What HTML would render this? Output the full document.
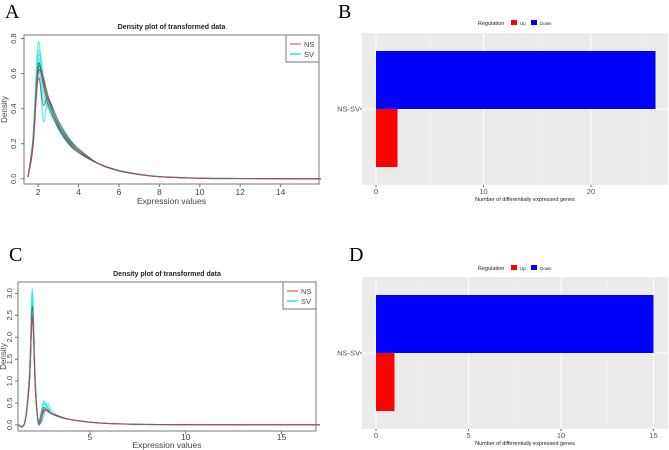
<!DOCTYPE html>
<html><head><meta charset="utf-8"><style>
body{margin:0;background:#fff;width:669px;height:450px;overflow:hidden}
svg{display:block}
text{font-family:"Liberation Sans",sans-serif}
</style></head><body>
<svg id="s" width="669" height="450">
<text x="5" y="18" font-size="20" style="font-family:'Liberation Serif',serif">A</text>
<text x="338" y="18" font-size="20" style="font-family:'Liberation Serif',serif">B</text>
<text x="9" y="261" font-size="20" style="font-family:'Liberation Serif',serif">C</text>
<text x="349" y="261" font-size="20" style="font-family:'Liberation Serif',serif">D</text>
<g id="pa"></g>
<g id="pc"></g>
<g id="pb"></g>
<g id="pd"></g>
</svg>
<script>
// Panel A data
const aX=[1.5,1.75,2,2.25,2.5,3,3.5,4,5,6,7,8,10,12,16];
const aNS=[
[0.01,0.2,0.6,0.56,0.45,0.31,0.22,0.16,0.085,0.047,0.025,0.012,0.003,0.001,0],
[0.01,0.22,0.65,0.54,0.42,0.29,0.21,0.15,0.085,0.046,0.025,0.012,0.003,0.001,0],
[0.01,0.18,0.57,0.42,0.46,0.33,0.23,0.17,0.085,0.045,0.024,0.012,0.003,0.001,0],
[0.01,0.2,0.62,0.58,0.47,0.3,0.2,0.15,0.085,0.047,0.025,0.012,0.003,0.001,0]];
const aSV=[
[0.01,0.25,0.78,0.52,0.4,0.29,0.21,0.16,0.085,0.045,0.025,0.012,0.003,0.001,0],
[0.01,0.22,0.7,0.56,0.43,0.3,0.22,0.16,0.085,0.046,0.025,0.012,0.003,0.001,0],
[0.01,0.2,0.66,0.33,0.44,0.33,0.24,0.17,0.085,0.044,0.024,0.012,0.003,0.001,0],
[0.01,0.24,0.72,0.6,0.44,0.28,0.2,0.15,0.085,0.047,0.026,0.012,0.003,0.001,0],
[0.01,0.21,0.68,0.46,0.42,0.32,0.23,0.17,0.085,0.045,0.025,0.012,0.003,0.001,0],
[0.01,0.23,0.64,0.57,0.46,0.29,0.2,0.15,0.085,0.045,0.025,0.012,0.003,0.001,0]];
const aXTicks=[2,4,6,8,10,12,14];
const aYTicks=[0,0.2,0.4,0.6,0.8];
// Panel C data
const cX=[1.25,1.6,1.85,2.0,2.15,2.3,2.45,2.6,2.8,3,3.5,4,5,6,8,10,17];
const cNS=[
[0,0.05,1.0,2.5,0.9,0.08,0.1,0.35,0.32,0.26,0.18,0.12,0.06,0.03,0.01,0.004,0],
[0,0.05,1.1,2.7,0.9,0.06,0.12,0.3,0.34,0.25,0.17,0.12,0.06,0.03,0.01,0.004,0],
[0,0.05,1.0,2.4,0.8,0.1,0.22,0.4,0.3,0.25,0.17,0.12,0.06,0.03,0.01,0.004,0]];
const cSV=[
[0,0.05,1.2,3.1,1.0,0.06,0.3,0.55,0.35,0.26,0.17,0.12,0.06,0.03,0.01,0.004,0],
[0,0.05,1.1,2.9,1.0,0.05,0.12,0.45,0.42,0.27,0.17,0.12,0.06,0.03,0.01,0.004,0],
[0,0.05,1.2,3.0,0.9,0.08,0.05,0.2,0.5,0.32,0.18,0.12,0.06,0.03,0.01,0.004,0],
[0,0.05,1.0,2.8,1.1,0.07,0.2,0.5,0.38,0.26,0.17,0.12,0.06,0.03,0.01,0.004,0]];
const cXTicks=[5,10,15];
const cYTicks=[0,0.5,1,1.5,2,2.5,3];
const cYLabels=["0.0","0.5","1.0","1.5","2.0","2.5","3.0"];
// Bar data
const barCats=["NS-SV"];
const bUp=[2], bDown=[26];
const bTicks=[0,10,20];
const dUp=[1], dDown=[15];
const dTicks=[0,5,10,15];

const NS='http://www.w3.org/2000/svg';
function el(p,t,a){const e=document.createElementNS(NS,t);for(const k in a)e.setAttribute(k,a[k]);p.appendChild(e);return e;}
function smooth(pts){let d='M'+pts[0][0]+','+pts[0][1];for(let i=0;i<pts.length-1;i++){const p0=pts[i-1]||pts[i],p1=pts[i],p2=pts[i+1],p3=pts[i+2]||p2;
d+=' C'+(p1[0]+(p2[0]-p0[0])/6)+','+(p1[1]+(p2[1]-p0[1])/6)+' '+(p2[0]-(p3[0]-p1[0])/6)+','+(p2[1]-(p3[1]-p1[1])/6)+' '+p2[0]+','+p2[1];}return d;}

function density(g,o){
  const sx=v=>o.x0+(v-o.xmin)/(o.xmax-o.xmin)*(o.x1-o.x0);
  const sy=v=>o.y1-(v-o.ymin)/(o.ymax-o.ymin)*(o.y1-o.y0);
  let t=el(g,'text',{x:(o.x0+o.x1)/2,y:o.y0-6,'text-anchor':'middle','font-size':7,'font-weight':'bold',fill:'#222'});t.textContent='Density plot of transformed data';
  
  
  const draw=(arr,col,w,op)=>arr.forEach(c=>{const p=el(g,'path',{d:smooth(o.xs.map((x,i)=>[sx(x),sy(c[i])])),fill:'none',stroke:col,'stroke-width':w,opacity:op});
    
    });
  draw(o.sv,'#2ee6e0',1.2,0.75);draw(o.ns,'#555',0.9,0.8);draw(o.ns.slice(0,1),'#d94040',0.9,0.9);
  const r=el(g,'rect',{x:o.x0,y:o.y0,width:o.x1-o.x0,height:o.y1-o.y0,fill:'none',stroke:'#777','stroke-width':1});
  
  
  o.xt.forEach(v=>{el(g,'line',{x1:sx(v),x2:sx(v),y1:o.y1,y2:o.y1+3,stroke:'#777'});const tt=el(g,'text',{x:sx(v),y:o.y1+o.tx,'text-anchor':'middle','font-size':8.5,fill:'#444'});tt.textContent=v;
    
    });
  o.yt.forEach((v,i)=>{el(g,'line',{x1:o.x0-3,x2:o.x0,y1:sy(v),y2:sy(v),stroke:'#777'});const tt=el(g,'text',{x:0,y:0,'text-anchor':'middle','font-size':7.5,fill:'#444',transform:`translate(${o.x0-o.ty},${sy(v)}) rotate(-90)`});tt.textContent=o.yl[i];
    
    });
  let xl=el(g,'text',{x:(o.x0+o.x1)/2,y:o.y1+o.tt,'text-anchor':'middle','font-size':8.5,fill:'#444'});xl.textContent='Expression values';
  
  
  let yl=el(g,'text',{x:0,y:0,'text-anchor':'middle','font-size':8,fill:'#444',transform:`translate(${o.yx},${(o.y0+o.y1)/2}) rotate(-90)`});yl.textContent='Density';
  
  
  const lg=el(g,'g',{});
  
  
  el(lg,'rect',{x:o.x1-33,y:o.y0,width:33,height:27,fill:'#fff',stroke:'#777'});
  el(lg,'line',{x1:o.x1-29,x2:o.x1-18,y1:o.y0+9,y2:o.y0+9,stroke:'#d94040'});
  el(lg,'line',{x1:o.x1-29,x2:o.x1-18,y1:o.y0+19,y2:o.y0+19,stroke:'#2ee6e0','stroke-width':1.5});
  let a=el(lg,'text',{x:o.x1-15,y:o.y0+12,'font-size':7.5,fill:'#444'});a.textContent='NS';
  let b=el(lg,'text',{x:o.x1-15,y:o.y0+22,'font-size':7.5,fill:'#444'});b.textContent='SV';
}
density(document.getElementById('pa'),{x0:24,x1:319,y0:35,y1:184,xmin:1.3,xmax:15.9,ymin:-0.03,ymax:0.82,xs:aX,ns:aNS,sv:aSV,xt:aXTicks,yt:aYTicks,yl:aYTicks.map(v=>v.toFixed(1)),tx:11,tt:20,ty:8,yx:7});
density(document.getElementById('pc'),{x0:18,x1:316,y0:282,y1:431,xmin:1.25,xmax:16.8,ymin:-0.14,ymax:3.26,xs:cX,ns:cNS,sv:cSV,xt:cXTicks,yt:cYTicks,yl:cYLabels,tx:9,tt:17,ty:6,yx:6});

function bars(g,o){
  const sx=v=>o.xz+v*o.k;
  const bg=el(g,'rect',{x:o.bx0,y:o.by0,width:o.bx1-o.bx0,height:o.by1-o.by0,fill:'#ebebeb'});
  
  
  const mx=(o.bx1-o.xz)/o.k;const st=o.ticks[1]-o.ticks[0];
  for(let v=st/2;v<mx;v+=st){el(g,'line',{x1:sx(v),x2:sx(v),y1:o.by0,y2:o.by1,stroke:'#f5f5f5','stroke-width':0.6});}
  o.ticks.forEach(v=>{el(g,'line',{x1:sx(v),x2:sx(v),y1:o.by0,y2:o.by1,stroke:'#fff','stroke-width':1});
    el(g,'line',{x1:sx(v),x2:sx(v),y1:o.by1,y2:o.by1+2,stroke:'#666'});
    const t=el(g,'text',{x:sx(v),y:o.by1+9,'text-anchor':'middle','font-size':7.5,fill:'#555'});t.textContent=v;
    
    });
  const cy=(o.by0+o.by1)/2, bh=o.bh;
  el(g,'line',{x1:o.bx0,x2:o.bx1,y1:cy,y2:cy,stroke:'#fff'});
  const d=el(g,'rect',{x:sx(0),y:cy-bh,width:sx(o.down[0])-sx(0),height:bh,fill:'#0000ff'});
  
  
  const u=el(g,'rect',{x:sx(0),y:cy,width:sx(o.up[0])-sx(0),height:bh,fill:'#ff0000'});
  
  
  el(g,'line',{x1:o.bx0-2,x2:o.bx0,y1:cy,y2:cy,stroke:'#666'});
  const c=el(g,'text',{x:o.bx0-2,y:cy+2.5,'text-anchor':'end','font-size':7.5,fill:'#555'});c.textContent=barCats[0];
  
  
  const xt=el(g,'text',{x:(o.bx0+o.bx1)/2+10,y:o.by1+16,'text-anchor':'middle','font-size':5.5,fill:'#222'});xt.textContent='Number of differentially expressed genes';
  
  
  const lg=el(g,'g',{});
  
  
  const ly=o.ly;
  let t=el(lg,'text',{x:478,y:ly+2,'font-size':5.5,fill:'#222'});t.textContent='Regulation';
  el(lg,'rect',{x:511,y:ly-3,width:6,height:5,fill:'#ff0000'});
  t=el(lg,'text',{x:520,y:ly+2,'font-size':4.5,fill:'#222'});t.textContent='Up';
  el(lg,'rect',{x:531,y:ly-3,width:6,height:5,fill:'#0000ff'});
  t=el(lg,'text',{x:540,y:ly+2,'font-size':4.5,fill:'#222'});t.textContent='Down';
}
bars(document.getElementById('pb'),{bx0:362,bx1:668,by0:33,by1:185,xz:376,k:10.75,ticks:bTicks,up:bUp,down:bDown,bh:58,ly:23});
bars(document.getElementById('pd'),{bx0:362,bx1:668,by0:277,by1:429,xz:376,k:18.5,ticks:dTicks,up:dUp,down:dDown,bh:58,ly:268});
</script>
</body></html>
